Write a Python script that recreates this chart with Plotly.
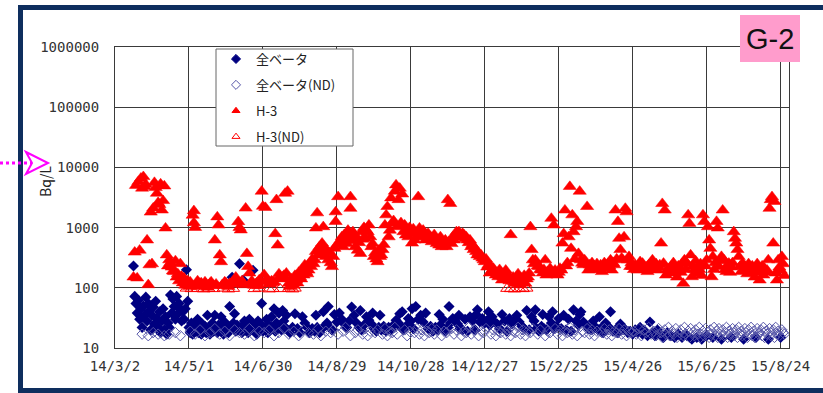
import plotly.graph_objects as go
import pandas as pd

START = "2014-03-02"
tick_dates = ["2014-03-02", "2014-05-01", "2014-06-30", "2014-08-29", "2014-10-28",
              "2014-12-27", "2015-02-25", "2015-04-26", "2015-06-25", "2015-08-24"]
tick_labels = ["14/3/2", "14/5/1", "14/6/30", "14/8/29", "14/10/28",
               "14/12/27", "15/2/25", "15/4/26", "15/6/25", "15/8/24"]
y_tick_vals = [10, 100, 1000, 10000, 100000, 1000000]
y_tick_labels = ["10", "100", "1000", "10000", "100000", "1000000"]
series_names = ["全ベータ", "全ベータ(ND)", "H-3", "H-3(ND)"]

# ---- H-3 (days after 2014-03-02, Bq/L) ----
h3_days = [
    15, 16, 17, 18, 19, 20, 21, 22, 23, 24,
    25, 26, 27, 28, 29, 30, 31, 32, 33, 34,
    35, 36, 37, 38, 39, 40, 41, 42, 43, 44,
    45, 46, 47, 48, 49, 50, 51, 52, 53, 54,
    55, 56, 57, 58, 59, 60, 61, 62, 63, 64,
    64, 65, 66, 67, 68, 69, 70, 71, 72, 73,
    74, 75, 76, 77, 78, 79, 80, 81, 82, 83,
    84, 85, 86, 87, 88, 89, 90, 91, 92, 93,
    94, 95, 96, 97, 98, 99, 100, 101, 102, 103,
    104, 105, 106, 107, 108, 109, 110, 111, 112, 113,
    114, 115, 116, 117, 118, 119, 120, 121, 122, 123,
    124, 125, 126, 127, 128, 129, 130, 131, 132, 133,
    134, 135, 136, 137, 138, 139, 140, 141, 142, 143,
    144, 145, 146, 147, 148, 149, 150, 151, 152, 153,
    154, 155, 156, 157, 158, 159, 160, 161, 162, 163,
    163, 164, 165, 166, 167, 168, 169, 170, 171, 172,
    173, 174, 175, 176, 177, 178, 179, 179, 180, 181,
    182, 183, 184, 185, 186, 187, 188, 189, 190, 191,
    191, 192, 193, 194, 195, 196, 197, 198, 199, 200,
    201, 202, 203, 204, 205, 206, 207, 208, 209, 210,
    211, 212, 213, 214, 215, 216, 217, 218, 219, 220,
    221, 222, 223, 224, 225, 226, 227, 228, 229, 230,
    231, 232, 233, 234, 235, 236, 237, 238, 239, 240,
    241, 242, 243, 244, 245, 246, 247, 248, 249, 250,
    251, 252, 253, 254, 255, 256, 257, 258, 259, 260,
    261, 262, 263, 264, 265, 266, 267, 268, 269, 270,
    271, 272, 273, 274, 275, 276, 277, 278, 279, 280,
    281, 282, 283, 284, 285, 286, 287, 288, 289, 290,
    291, 292, 293, 294, 295, 296, 297, 298, 299, 300,
    301, 302, 303, 304, 305, 306, 307, 308, 309, 310,
    311, 312, 313, 314, 315, 316, 317, 318, 319, 320,
    321, 322, 323, 324, 325, 326, 327, 328, 329, 330,
    331, 332, 333, 334, 335, 336, 337, 338, 339, 340,
    341, 342, 343, 344, 345, 346, 347, 348, 349, 350,
    351, 352, 353, 354, 355, 356, 357, 358, 359, 360,
    361, 362, 363, 364, 365, 366, 367, 368, 369, 370,
    371, 372, 373, 374, 375, 376, 377, 378, 379, 380,
    381, 382, 383, 384, 385, 386, 387, 388, 389, 390,
    391, 392, 393, 394, 395, 396, 397, 398, 399, 400,
    401, 402, 403, 404, 405, 406, 407, 408, 409, 410,
    411, 412, 413, 414, 415, 416, 417, 418, 419, 420,
    421, 422, 423, 424, 425, 426, 427, 428, 429, 430,
    431, 432, 433, 434, 435, 436, 437, 438, 439, 440,
    441, 442, 443, 444, 445, 446, 447, 448, 449, 450,
    451, 452, 453, 454, 455, 456, 457, 458, 459, 460,
    461, 462, 463, 464, 465, 466, 467, 468, 469, 470,
    471, 472, 473, 474, 475, 476, 477, 478, 479, 480,
    481, 482, 483, 484, 485, 486, 487, 488, 489, 490,
    491, 492, 493, 494, 495, 496, 497, 498, 499, 500,
    501, 502, 503, 504, 505, 506, 507, 508, 509, 510,
    511, 512, 513, 514, 515, 516, 517, 518, 519, 520,
    521, 522, 523, 524, 525, 526, 527, 528, 529, 530,
    531, 532, 533, 534, 535, 536, 537, 538, 539, 540,
    541, 542, 543,
]
h3_vals = [
    150, 390, 5000, 145, 5800, 420, 6600, 4500, 7000, 4800,
    5200, 620, 112, 240, 1800, 250, 2100, 5600, 4600, 3700,
    2600, 2400, 5300, 1950, 2800, 4900, 980, 350, 230, 290,
    260, 220, 190, 185, 280, 150, 170, 130, 250, 155,
    120, 145, 110, 118, 130, 105, 125, 110, 1600, 1200,
    1900, 1000, 115, 130, 105, 118, 120, 112, 108, 125,
    115, 102, 110, 118, 125, 112, 108, 620, 115, 1500,
    1100, 350, 270, 112, 110, 125, 120, 108, 105, 118,
    115, 122, 125, 115, 150, 128, 1250, 1000, 910, 130,
    120, 112, 2100, 370, 225, 175, 118, 130, 112, 110,
    115, 120, 108, 135, 125, 4000, 2250, 165, 2150, 140,
    130, 115, 118, 130, 122, 125, 790, 2900, 510, 170,
    155, 140, 150, 160, 3700, 175, 4000, 118, 105, 140,
    125, 110, 160, 134, 120, 180, 152, 140, 200, 162,
    240, 185, 170, 196, 260, 224, 300, 250, 290, 980,
    400, 1750, 350, 480, 370, 550, 1030, 450, 330, 420,
    290, 380, 260, 224, 330, 450, 1260, 1820, 520, 3250,
    550, 620, 700, 480, 760, 620, 540, 900, 660, 3250,
    2080, 760, 850, 600, 480, 700, 420, 560, 370, 850,
    640, 1000, 660, 900, 850, 1100, 700, 480, 540, 330,
    380, 300, 270, 420, 330, 350, 430, 520, 1100, 1620,
    2230, 700, 900, 3100, 1170, 1300, 4000, 5100, 1030, 2900,
    4500, 1200, 3600, 850, 1100, 750, 900, 700, 1000, 820,
    550, 950, 620, 790, 700, 3250, 980, 850, 760, 900,
    700, 620, 760, 800, 660, 700, 580, 620, 760, 660,
    540, 600, 510, 700, 480, 560, 520, 620, 480, 2900,
    590, 2500, 540, 700, 620, 700, 850, 760, 850, 760,
    700, 800, 760, 650, 700, 620, 560, 620, 480, 520,
    430, 460, 400, 350, 380, 330, 350, 310, 290, 270,
    300, 220, 240, 175, 230, 196, 210, 180, 162, 175,
    152, 200, 160, 134, 150, 170, 196, 140, 162, 130,
    760, 134, 150, 125, 118, 143, 170, 112, 130, 143,
    125, 160, 118, 140, 150, 175, 1030, 430, 290, 250,
    290, 260, 230, 225, 200, 196, 175, 200, 290, 162,
    185, 175, 210, 1420, 180, 1100, 196, 170, 162, 180,
    210, 196, 550, 790, 1950, 230, 260, 700, 4800, 450,
    1620, 850, 300, 1030, 1260, 370, 4000, 290, 255, 240,
    290, 255, 2230, 196, 240, 225, 260, 200, 230, 210,
    250, 220, 200, 240, 185, 230, 260, 225, 210, 250,
    230, 290, 196, 260, 240, 1950, 300, 1260, 660, 430,
    310, 290, 700, 2080, 1820, 290, 330, 225, 260, 225,
    200, 240, 210, 196, 230, 270, 210, 255, 230, 200,
    220, 185, 240, 210, 260, 290, 230, 200, 250, 196,
    220, 240, 550, 2500, 255, 1950, 162, 200, 180, 210,
    225, 190, 260, 175, 210, 150, 230, 196, 180, 250,
    118, 290, 200, 255, 1620, 1170, 350, 152, 230, 200,
    280, 170, 225, 200, 250, 160, 1620, 1260, 230, 290,
    1030, 620, 450, 152, 330, 200, 260, 1260, 980, 225,
    280, 330, 1950, 290, 200, 185, 230, 255, 180, 220,
    260, 850, 660, 550, 430, 330, 225, 185, 255, 200,
    230, 196, 170, 250, 210, 175, 230, 200, 150, 210,
    250, 180, 134, 200, 230, 162, 210, 180, 196, 290,
    2080, 2900, 3250, 550, 2700, 175, 134, 290, 220, 196,
    330, 250, 160,
]

# ---- H-3 below detection limit ----
h3_nd_days = [58, 62, 67, 72, 76, 80, 88, 92, 96, 113, 117, 125, 128, 134,
              141, 144, 146, 318, 321, 324, 328, 331, 334]
h3_nd_vals = [98, 96, 97, 95, 97, 96, 98, 95, 97, 96, 98, 95, 97, 96,
              97, 95, 98, 97, 96, 95, 97, 96, 98]

# ---- gross beta (detected) ----
beta_days = [
    15, 16, 17, 18, 19, 20, 21, 22, 23, 24,
    25, 26, 27, 28, 29, 30, 31, 32, 33, 34,
    35, 36, 37, 38, 39, 40, 41, 42, 43, 44,
    45, 46, 47, 48, 49, 50, 51, 52, 53, 54,
    55, 56, 57, 58, 59, 60, 61, 62, 63, 64,
    65, 66, 67, 68, 69, 70, 71, 72, 73, 74,
    75, 76, 77, 78, 79, 80, 81, 82, 83, 84,
    85, 86, 87, 88, 89, 90, 91, 92, 93, 94,
    95, 96, 97, 98, 99, 100, 101, 102, 103, 104,
    105, 106, 107, 108, 109, 110, 111, 112, 113, 114,
    115, 116, 117, 118, 119, 120, 121, 122, 123, 124,
    125, 126, 127, 128, 129, 130, 131, 132, 133, 134,
    135, 136, 137, 138, 139,
    140, 142, 144, 146, 148, 150, 152, 154, 156, 158,
    160, 162, 163, 164, 166, 168, 169, 170, 172, 173,
    174, 176, 178, 180, 182, 184, 186, 188, 190, 192,
    194, 196, 198, 199, 200, 202, 204, 206, 208, 209,
    210, 212, 214, 215, 216, 218, 220, 222, 224, 226,
    228, 230, 231, 232, 233, 234, 236, 238, 240, 241,
    242, 244, 246, 248, 250, 252, 254, 256, 258, 260,
    262, 263, 264, 266, 268, 270, 271, 272, 274, 276,
    278, 279, 280, 282, 284, 286, 288, 290, 292, 293,
    294, 296, 298, 300, 302, 303, 304, 306, 308, 310,
    312, 314, 316, 318, 320, 322, 324, 326, 328, 330,
    332, 334, 336, 338, 340, 341, 342, 344, 346, 347,
    348, 350, 352, 354, 355, 356, 358, 360, 362, 364,
    366, 368, 370, 372, 374, 376, 377, 378, 380, 382,
    384, 386, 388, 390, 392, 393, 394, 396, 398, 400,
    402, 404, 406, 408, 410, 412, 414, 416, 418, 420,
    422, 424, 426, 428, 430, 432, 434, 436, 438, 440,
    442, 445, 448, 451, 454, 457, 460, 464, 468, 472,
    476, 480, 485, 492, 500, 510, 520, 530, 540,
]
beta_vals = [
    230, 72, 55, 38, 62, 30, 45, 22, 50, 35,
    70, 28, 55, 42, 20, 35, 48, 25, 60, 31,
    22, 40, 18, 28, 45, 20, 33, 17, 26, 22,
    76, 38, 65, 49, 30, 72, 37, 55, 45, 28,
    40, 30, 45, 200, 60, 22, 18, 26, 17, 20,
    24, 19, 30, 18, 21, 17, 25, 19, 23, 18,
    35, 20, 17, 22, 26, 19, 35, 21, 18, 24,
    20, 33, 22, 17, 27, 20, 23, 18, 49, 21,
    150, 26, 37, 19, 24, 20, 250, 22, 18, 134,
    28, 20, 24, 18, 30, 21, 26, 196, 19, 23,
    17, 28, 20, 25, 55, 19, 22, 21, 30, 18,
    24, 20, 33, 22, 45, 19, 26, 21, 38, 23,
    20, 42, 28, 22, 35,
    20, 18, 22, 37, 21, 18, 33, 26, 22, 18,
    21, 19, 35, 22, 18, 21, 40, 23, 26, 49,
    22, 20, 36, 27, 38, 30, 25, 22, 28, 48,
    35, 26, 22, 42, 20, 24, 33, 29, 25, 38,
    21, 19, 22, 35, 20, 23, 19, 22, 20, 24,
    29, 26, 37, 22, 40, 20, 23, 31, 28, 45,
    21, 49, 30, 35, 27, 38, 21, 23, 19, 22,
    20, 36, 24, 30, 19, 22, 49, 26, 31, 28,
    25, 35, 21, 20, 30, 19, 33, 28, 20, 36,
    43, 27, 31, 26, 29, 40, 24, 33, 27, 25,
    21, 36, 28, 19, 31, 25, 29, 35, 27, 23,
    21, 42, 20, 33, 28, 43, 21, 19, 23, 36,
    21, 20, 33, 26, 40, 21, 23, 31, 21, 35,
    20, 30, 19, 43, 28, 24, 36, 40, 27, 24,
    21, 20, 28, 22, 20, 33, 21, 18, 26, 23,
    40, 19, 20, 18, 25, 22, 20, 18, 19, 17,
    20, 18, 22, 17, 19, 16, 27, 18, 16, 20,
    17, 15, 18, 16, 15, 17, 15, 16, 14, 15,
    14, 16, 15, 14, 15, 14, 15, 14, 15,
]

# ---- gross beta below detection limit ----
beta_nd_days = [
    22, 27, 31, 35, 40, 44, 49, 53,
    61, 65, 69, 73, 77, 81, 85, 89, 93, 97,
    101, 105, 109, 113, 117, 121, 125, 129, 133, 137,
    141, 145, 149, 153, 157, 161, 165, 167, 171, 175,
    177, 181, 185, 187, 191, 195, 197, 201, 203, 205,
    207, 211, 213, 217, 219, 221, 223, 225, 227, 229,
    235, 237, 239, 243, 245, 247, 249, 251, 253, 255,
    257, 259, 261, 265, 267, 269, 273, 275, 277, 281,
    283, 285, 287, 289, 291, 295, 297, 299, 301, 305,
    307, 309, 311, 313, 315, 317, 319, 321, 323, 325,
    327, 329, 331, 333, 335, 337, 339, 343, 345, 349,
    351, 353, 357, 359, 361, 363, 365, 367, 369, 371,
    373, 375, 379, 381, 383, 385, 387, 389, 391, 395,
    397, 399, 401, 403, 405, 407, 409, 411, 413, 415,
    417, 419,
    421, 423, 425, 427, 429, 431, 433, 435, 437, 439,
    441, 443, 444, 446, 447, 449, 450, 452, 453, 455,
    456, 458, 459, 461, 462, 463, 465, 466, 467, 469,
    470, 471, 473, 474, 475, 477, 478, 479, 481, 482,
    483, 484, 486, 487, 488, 489, 490, 491, 493, 494,
    495, 496, 497, 498, 499, 501, 502, 503, 504, 505,
    506, 507, 508, 509, 511, 512, 513, 514, 515, 516,
    517, 518, 519, 521, 522, 523, 524, 525, 526, 527,
    528, 529, 531, 532, 533, 534, 535, 536, 537, 538,
    539, 541, 542, 543,
]
beta_nd_vals = [
    17, 16, 18, 17, 16, 17, 18, 16,
    19, 17, 20, 16, 18, 21, 17, 19, 16, 20,
    18, 17, 21, 16, 19, 18, 20, 16, 18, 21,
    17, 19, 16, 20, 18, 17, 21, 16, 19, 18,
    20, 17, 19, 22, 16, 18, 20, 17, 21, 16,
    19, 18, 20, 17, 21, 16, 19, 18, 22, 17,
    20, 16, 19, 18, 21, 17, 20, 16, 19, 18,
    21, 17, 20, 16, 19, 18, 21, 17, 20, 16,
    19, 18, 22, 17, 20, 16, 19, 18, 21, 17,
    20, 16, 19, 18, 21, 17, 20, 16, 19, 18,
    22, 17, 20, 16, 19, 18, 21, 17, 20, 16,
    19, 18, 21, 17, 20, 16, 19, 18, 22, 17,
    20, 16, 19, 18, 21, 17, 20, 16, 19, 18,
    21, 17, 20, 16, 19, 18, 21, 17, 20, 16,
    19, 18,
    19, 17, 21, 16, 20, 18, 22, 17, 19, 16,
    21, 18, 15, 20, 17, 22, 16, 19, 17, 21,
    15, 18, 20, 16, 22, 17, 19, 15, 21, 18,
    16, 20, 17, 22, 15, 19, 16, 21, 18, 15,
    20, 17, 22, 16, 19, 15, 21, 17, 20, 16,
    18, 22, 15, 19, 17, 21, 16, 18, 20, 15,
    22, 17, 19, 16, 21, 18, 15, 20, 17, 22,
    16, 19, 15, 21, 17, 18, 20, 16, 22, 15,
    19, 17, 21, 16, 18, 20, 15, 22, 17, 19,
    16, 20, 18, 17,
]

assert len(h3_days) == len(h3_vals)
assert len(h3_nd_days) == len(h3_nd_vals)
assert len(beta_days) == len(beta_vals)
assert len(beta_nd_days) == len(beta_nd_vals)

base = pd.Timestamp(START)
def to_dates(days):
    return [base + pd.Timedelta(days=d) for d in days]

# ---- geometry (pixels) ----
W, H = 823, 393
L, R, T, B = 115, 789, 47, 348
def fx(px):
    return (px - L) / (R - L)
def fy(py):
    return (B - py) / (B - T)

NAVY = "#000080"
ND_BLUE = "#5656a8"
RED = "#ff0000"

fig = go.Figure()
fig.add_trace(go.Scatter(x=to_dates(beta_days), y=beta_vals, mode="markers", name=series_names[0],
                         showlegend=False,
                         marker=dict(symbol="diamond", size=8.5, color=NAVY, line=dict(width=0))))
fig.add_trace(go.Scatter(x=to_dates(beta_nd_days), y=beta_nd_vals, mode="markers", name=series_names[1],
                         showlegend=False,
                         marker=dict(symbol="diamond-open", size=8, color=ND_BLUE, line=dict(width=1))))
fig.add_trace(go.Scatter(x=to_dates(h3_days), y=h3_vals, mode="markers", name=series_names[2],
                         showlegend=False,
                         marker=dict(symbol="triangle-up", size=11.5, color=RED, line=dict(width=0.5, color=RED))))
fig.add_trace(go.Scatter(x=to_dates(h3_nd_days), y=h3_nd_vals, mode="markers", name=series_names[3],
                         showlegend=False,
                         marker=dict(symbol="triangle-up-open", size=11, color=RED, line=dict(width=1))))

# legend entries (small symbols like the original legend)
leg_styles = [("diamond", NAVY), ("diamond-open", ND_BLUE), ("triangle-up", RED), ("triangle-up-open", RED)]
for i, (sym, col) in enumerate(leg_styles):
    fig.add_trace(go.Scatter(x=[None], y=[None], mode="markers", name=series_names[i],
                             legendgroup=f"g{i}",
                             marker=dict(symbol=sym, size=7, color=col, line=dict(width=1, color=col))))

axis_common = dict(showgrid=True, gridcolor="#3a3a3a", gridwidth=1,
                   showline=True, mirror=True, linecolor="#3a3a3a", linewidth=1,
                   zeroline=False, ticks="",
                   tickfont=dict(family="DejaVu Sans Mono", size=14, color="#333333"))

fig.update_layout(
    width=W, height=H,
    margin=dict(l=L, r=W - R, t=T, b=H - B, pad=0, autoexpand=False),
    paper_bgcolor="white", plot_bgcolor="white",
    xaxis=dict(type="date",
               range=[base, base + pd.Timedelta(days=546.8)],
               tickvals=tick_dates, ticktext=tick_labels,
               ticklabelstandoff=5, **axis_common),
    yaxis=dict(type="log", range=[1, 6],
               tickvals=y_tick_vals, ticktext=y_tick_labels,
               ticklabelstandoff=12, **axis_common),
    legend=dict(x=fx(216), y=fy(44), xanchor="left", yanchor="top",
                bgcolor="rgba(0,0,0,0)", borderwidth=0,
                font=dict(family="Noto Sans CJK JP", size=13, color="#222222"),
                tracegroupgap=6, itemwidth=30),
    font=dict(family="Noto Sans CJK JP"),
)

shapes = [
    # legend box
    dict(type="rect", xref="paper", yref="paper", x0=fx(216), x1=fx(353), y0=fy(146), y1=fy(49),
         line=dict(color="#666666", width=1), fillcolor="white", layer="above"),
    # navy frame
    dict(type="rect", xref="paper", yref="paper", x0=fx(20.5), x1=fx(840), y0=fy(390.5), y1=fy(7.5),
         line=dict(color="#0e2e5e", width=5), fillcolor="rgba(0,0,0,0)", layer="above"),
    # G-2 pink box
    dict(type="rect", xref="paper", yref="paper", x0=fx(740), x1=fx(800), y0=fy(62), y1=fy(15),
         line=dict(width=0), fillcolor="#ff9ccc", layer="above"),
    # pink dotted arrow
    dict(type="line", xref="paper", yref="paper", x0=fx(0), x1=fx(32), y0=fy(163), y1=fy(163),
         line=dict(color="#ff00ff", width=3, dash="dot"), layer="above"),
    dict(type="path", xref="paper", yref="paper",
         path=f"M {fx(26)},{fy(152)} L {fx(48)},{fy(163)} L {fx(26)},{fy(174)} L {fx(32)},{fy(163)} Z",
         line=dict(color="#ff00ff", width=2), fillcolor="rgba(0,0,0,0)", layer="above"),
]
fig.update_layout(shapes=shapes)

fig.add_annotation(text="G-2", xref="paper", yref="paper", x=fx(770), y=fy(39),
                   showarrow=False, xanchor="center", yanchor="middle",
                   font=dict(family="Liberation Sans", size=29, color="#111111"))
fig.add_annotation(text="Bq/L", xref="paper", yref="paper", x=fx(45), y=fy(182),
                   showarrow=False, textangle=-90, xanchor="center", yanchor="middle",
                   font=dict(family="Noto Sans CJK JP", size=14, color="#222222"))

fig.write_html("out.html", config={"displayModeBar": False},
               post_script="document.body.style.margin='0px';document.body.style.overflow='hidden';")
